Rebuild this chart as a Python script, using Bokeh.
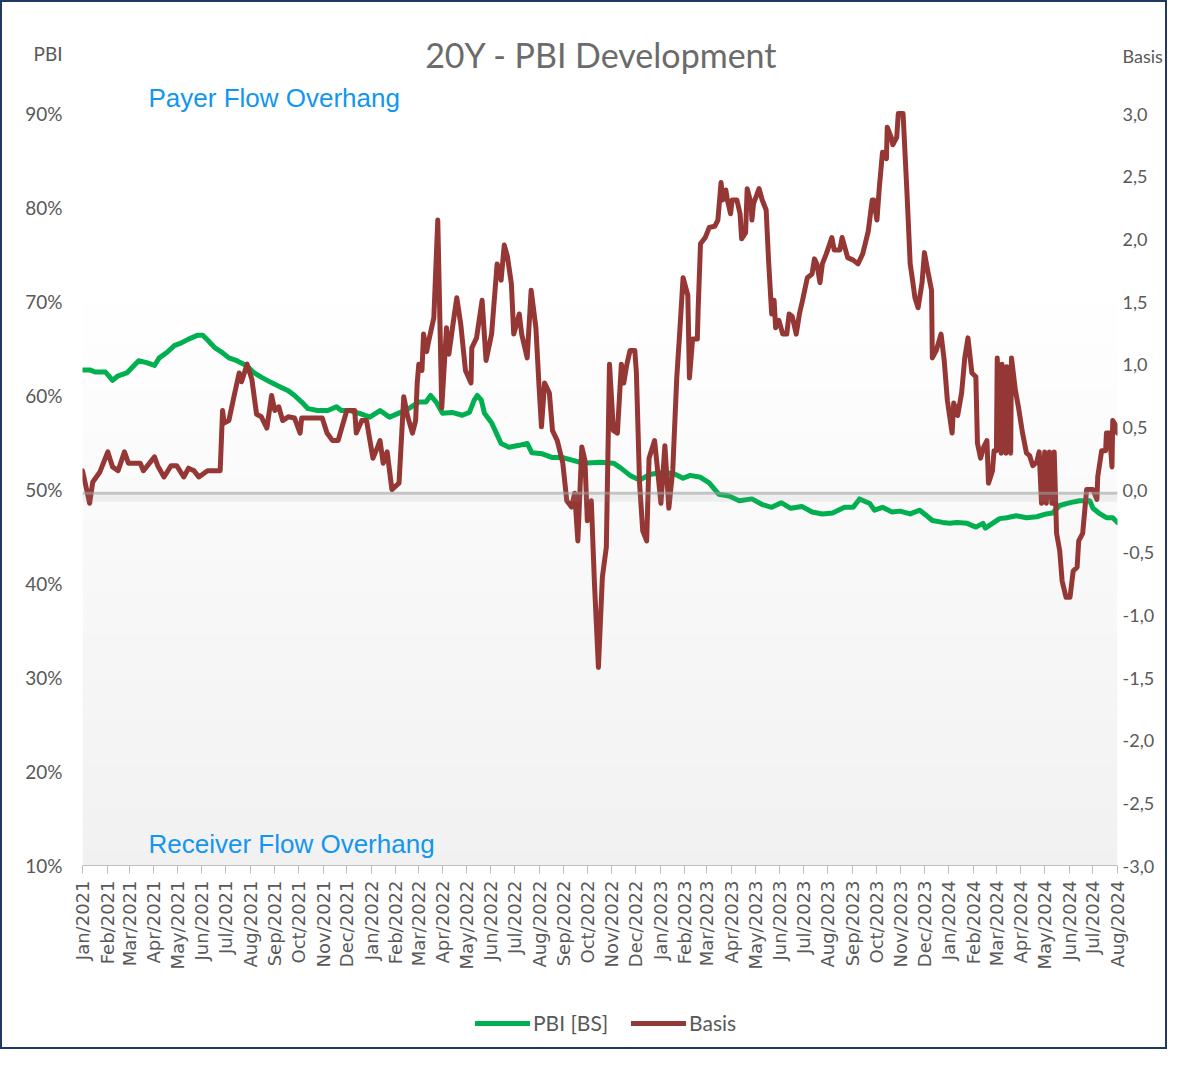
import math
import pandas as pd
from bokeh.plotting import figure
from bokeh.layouts import column
from bokeh.models import (Range1d, LinearAxis, FixedTicker, CustomJSTickFormatter,
                          DatetimeTickFormatter, Span, Label, Legend, LegendItem, BoxAnnotation)
from bokeh.embed import file_html
from bokeh.resources import INLINE

# ---------------- data ----------------
month_starts = pd.date_range("2021-01-01", "2024-08-01", freq="MS")
pbi_ticks = [10, 20, 30, 40, 50, 60, 70, 80, 90]
basis_ticks = [-3.0, -2.5, -2.0, -1.5, -1.0, -0.5, 0.0, 0.5, 1.0, 1.5, 2.0, 2.5, 3.0]
pbi_axis_title_at = 96.4      # "PBI" written at the top of the left scale
basis_axis_title_at = 3.455   # "Basis" written at the top of the right scale

pbi_dates = [
    "2021-01-01", "2021-01-11", "2021-01-17", "2021-01-30", "2021-02-08", "2021-02-15", "2021-02-26",
    "2021-03-05", "2021-03-13", "2021-03-23", "2021-04-02", "2021-04-08", "2021-04-18", "2021-04-27",
    "2021-05-06", "2021-05-15", "2021-05-26", "2021-06-02", "2021-06-08", "2021-06-17", "2021-06-26",
    "2021-07-05", "2021-07-15", "2021-07-27", "2021-08-06", "2021-08-16", "2021-08-27", "2021-09-08",
    "2021-09-18", "2021-09-26", "2021-10-05", "2021-10-13", "2021-10-25", "2021-11-07", "2021-11-18",
    "2021-11-24", "2021-12-05", "2021-12-17", "2021-12-30", "2022-01-12", "2022-01-24", "2022-02-07",
    "2022-02-19", "2022-03-02", "2022-03-11", "2022-03-17", "2022-03-24", "2022-04-01", "2022-04-13",
    "2022-04-26", "2022-05-05", "2022-05-11", "2022-05-15", "2022-05-20", "2022-05-24", "2022-06-02",
    "2022-06-08", "2022-06-14", "2022-06-24", "2022-07-07", "2022-07-17", "2022-07-23", "2022-08-05",
    "2022-08-18", "2022-08-30", "2022-09-13", "2022-09-25", "2022-10-17", "2022-11-03", "2022-11-12",
    "2022-11-24", "2022-12-06", "2022-12-19", "2023-01-02", "2023-01-18", "2023-01-30", "2023-02-08",
    "2023-02-21", "2023-03-04", "2023-03-16", "2023-03-29", "2023-04-11", "2023-04-27", "2023-05-10",
    "2023-05-22", "2023-06-03", "2023-06-15", "2023-06-29", "2023-07-12", "2023-07-25", "2023-08-07",
    "2023-08-22", "2023-09-02", "2023-09-10", "2023-09-23", "2023-09-29", "2023-10-09", "2023-10-21",
    "2023-10-31", "2023-11-13", "2023-11-25", "2023-12-04", "2023-12-11", "2023-12-24", "2024-01-02",
    "2024-01-11", "2024-01-24", "2024-02-04", "2024-02-13", "2024-02-16", "2024-02-25", "2024-03-05",
    "2024-03-14", "2024-03-26", "2024-04-08", "2024-04-21", "2024-05-03", "2024-05-11", "2024-05-20",
    "2024-06-02", "2024-06-14", "2024-06-27", "2024-07-01", "2024-07-10", "2024-07-18", "2024-07-26",
    "2024-08-01",
]
pbi_values = [
    62.7, 62.7, 62.5, 62.5, 61.6, 62.1, 62.4,
    63.0, 63.7, 63.5, 63.2, 64.0, 64.6, 65.3,
    65.6, 66.0, 66.4, 66.4, 65.9, 65.1, 64.6,
    64.0, 63.7, 63.2, 62.4, 61.9, 61.4, 60.9,
    60.5, 60.0, 59.3, 58.6, 58.4, 58.4, 58.8,
    58.4, 58.4, 58.1, 57.7, 58.4, 57.7, 58.2,
    58.7, 59.3, 59.3, 60.0, 59.3, 58.1, 58.2,
    57.9, 58.2, 59.5, 60.0, 59.5, 58.1, 57.1,
    56.0, 54.9, 54.5, 54.7, 54.9, 53.9, 53.8,
    53.4, 53.4, 53.1, 52.8, 52.9, 52.8, 52.3,
    51.5, 51.0, 51.6, 51.8, 51.7, 51.2, 51.5,
    51.3, 50.7, 49.5, 49.3, 48.8, 49.0, 48.4,
    48.1, 48.6, 48.0, 48.2, 47.6, 47.4, 47.5,
    48.1, 48.1, 49.0, 48.5, 47.8, 48.1, 47.6,
    47.7, 47.4, 47.8, 47.2, 46.7, 46.5, 46.4,
    46.5, 46.4, 46.0, 46.4, 45.9, 46.4, 46.9,
    47.0, 47.2, 47.0, 47.1, 47.4, 47.5, 48.3,
    48.6, 48.8, 48.8, 48.0, 47.4, 47.0, 47.0,
    46.5,
]

basis_dates = [
    "2021-01-01", "2021-01-10", "2021-01-14", "2021-01-23", "2021-02-02", "2021-02-08", "2021-02-15",
    "2021-02-23", "2021-02-28", "2021-03-15", "2021-03-19", "2021-04-02", "2021-04-06", "2021-04-14",
    "2021-04-23", "2021-04-30", "2021-05-09", "2021-05-15", "2021-05-22", "2021-05-28", "2021-06-08",
    "2021-06-24", "2021-06-27", "2021-06-29", "2021-07-05", "2021-07-11", "2021-07-18", "2021-07-21",
    "2021-07-28", "2021-08-03", "2021-08-09", "2021-08-15", "2021-08-22", "2021-08-28", "2021-09-01",
    "2021-09-06", "2021-09-11", "2021-09-18", "2021-09-26", "2021-10-03", "2021-10-05", "2021-10-31",
    "2021-11-06", "2021-11-13", "2021-11-20", "2021-12-01", "2021-12-11", "2021-12-13", "2021-12-20",
    "2021-12-26", "2022-01-03", "2022-01-09", "2022-01-12", "2022-01-16", "2022-01-21", "2022-01-27",
    "2022-02-05", "2022-02-11", "2022-02-16", "2022-02-22", "2022-02-26", "2022-02-28", "2022-03-02",
    "2022-03-06", "2022-03-08", "2022-03-12", "2022-03-14", "2022-03-21", "2022-03-26", "2022-03-31",
    "2022-04-06", "2022-04-09", "2022-04-16", "2022-04-19", "2022-04-24", "2022-04-30", "2022-05-07",
    "2022-05-08", "2022-05-14", "2022-05-21", "2022-05-26", "2022-06-02", "2022-06-09", "2022-06-14",
    "2022-06-18", "2022-06-22", "2022-06-27", "2022-06-30", "2022-07-07", "2022-07-10", "2022-07-17",
    "2022-07-22", "2022-07-28", "2022-08-01", "2022-08-04", "2022-08-08", "2022-08-14", "2022-08-18",
    "2022-08-24", "2022-08-31", "2022-09-05", "2022-09-11", "2022-09-15", "2022-09-19", "2022-09-24",
    "2022-09-28", "2022-10-01", "2022-10-06", "2022-10-10", "2022-10-15", "2022-10-20", "2022-10-25",
    "2022-10-29", "2022-11-03", "2022-11-08", "2022-11-13", "2022-11-16", "2022-11-20", "2022-11-24",
    "2022-11-30", "2022-12-02", "2022-12-06", "2022-12-10", "2022-12-15", "2022-12-18", "2022-12-25",
    "2023-01-02", "2023-01-07", "2023-01-12", "2023-01-17", "2023-01-22", "2023-01-26", "2023-01-30",
    "2023-02-05", "2023-02-07", "2023-02-11", "2023-02-17", "2023-02-18", "2023-02-21", "2023-02-27",
    "2023-03-04", "2023-03-11", "2023-03-15", "2023-03-19", "2023-03-21", "2023-03-25", "2023-03-27",
    "2023-03-31", "2023-04-02", "2023-04-08", "2023-04-12", "2023-04-14", "2023-04-19", "2023-04-21",
    "2023-04-26", "2023-04-27", "2023-04-29", "2023-05-06", "2023-05-10", "2023-05-15", "2023-05-18",
    "2023-05-22", "2023-05-25", "2023-05-27", "2023-05-31", "2023-06-05", "2023-06-10", "2023-06-13",
    "2023-06-17", "2023-06-22", "2023-06-26", "2023-06-30", "2023-07-06", "2023-07-12", "2023-07-15",
    "2023-07-18", "2023-07-22", "2023-07-25", "2023-07-30", "2023-08-06", "2023-08-09", "2023-08-16",
    "2023-08-19", "2023-08-26", "2023-09-02", "2023-09-08", "2023-09-14", "2023-09-21", "2023-09-26",
    "2023-09-28", "2023-10-02", "2023-10-05", "2023-10-09", "2023-10-14", "2023-10-15", "2023-10-20",
    "2023-10-22", "2023-10-27", "2023-10-29", "2023-11-04", "2023-11-09", "2023-11-13", "2023-11-16",
    "2023-11-19", "2023-11-23", "2023-11-28", "2023-12-01", "2023-12-05", "2023-12-10", "2023-12-11",
    "2023-12-16", "2023-12-22", "2023-12-26", "2023-12-30", "2024-01-05", "2024-01-07", "2024-01-12",
    "2024-01-17", "2024-01-21", "2024-01-25", "2024-01-30", "2024-02-04", "2024-02-06", "2024-02-10",
    "2024-02-14", "2024-02-18", "2024-02-20", "2024-02-25", "2024-02-27", "2024-03-01", "2024-03-02",
    "2024-03-07", "2024-03-08", "2024-03-13", "2024-03-14", "2024-03-19", "2024-03-20", "2024-03-25",
    "2024-03-29", "2024-04-03", "2024-04-08", "2024-04-12", "2024-04-16", "2024-04-21", "2024-04-24",
    "2024-04-27", "2024-05-01", "2024-05-03", "2024-05-07", "2024-05-10", "2024-05-13", "2024-05-16",
    "2024-05-20", "2024-05-23", "2024-05-28", "2024-06-02", "2024-06-06", "2024-06-11", "2024-06-13",
    "2024-06-18", "2024-06-23", "2024-07-01", "2024-07-06", "2024-07-07", "2024-07-12", "2024-07-17",
    "2024-07-18", "2024-07-22", "2024-07-25", "2024-07-26", "2024-07-30", "2024-08-01",
]
basis_values = [
    0.15, -0.11, 0.06, 0.14, 0.30, 0.18, 0.15,
    0.30, 0.21, 0.21, 0.15, 0.26, 0.19, 0.10,
    0.19, 0.19, 0.10, 0.17, 0.15, 0.10, 0.15,
    0.15, 0.63, 0.53, 0.55, 0.73, 0.93, 0.86,
    1.00, 0.88, 0.60, 0.58, 0.49, 0.75, 0.63,
    0.66, 0.55, 0.58, 0.57, 0.45, 0.57, 0.57,
    0.45, 0.39, 0.39, 0.63, 0.63, 0.45, 0.55,
    0.55, 0.25, 0.34, 0.39, 0.21, 0.30, 0.00,
    0.05, 0.74, 0.58, 0.45, 0.55, 0.85, 1.00,
    0.95, 1.24, 1.10, 1.17, 1.37, 2.15, 0.65,
    1.29, 1.08, 1.40, 1.53, 1.32, 0.95, 0.85,
    1.13, 1.21, 1.51, 1.03, 1.24, 1.80, 1.67,
    1.95, 1.86, 1.64, 1.24, 1.40, 1.24, 1.05,
    1.59, 1.29, 0.82, 0.50, 0.85, 0.77, 0.47,
    0.39, 0.21, -0.09, -0.14, -0.03, -0.41, 0.34,
    0.23, -0.25, -0.09, -0.75, -1.42, -0.70, -0.46,
    1.00, 0.47, 0.45, 1.00, 0.85, 1.00, 1.11,
    1.11, 0.93, 0.05, -0.33, -0.41, 0.25, 0.39,
    -0.11, 0.35, -0.15, 0.16, 0.89, 1.28, 1.69,
    1.55, 0.89, 1.20, 1.20, 1.43, 1.96, 2.01,
    2.09, 2.10, 2.15, 2.45, 2.31, 2.39, 2.31,
    2.20, 2.31, 2.31, 2.20, 2.00, 2.05, 2.40,
    2.28, 2.15, 2.28, 2.40, 2.31, 2.23, 1.83,
    1.40, 1.51, 1.29, 1.35, 1.24, 1.24, 1.40,
    1.38, 1.24, 1.40, 1.51, 1.69, 1.72, 1.84,
    1.80, 1.65, 1.80, 1.88, 2.01, 1.91, 1.91,
    2.01, 1.85, 1.83, 1.80, 1.88, 2.06, 2.31,
    2.31, 2.15, 2.41, 2.69, 2.64, 2.89, 2.81,
    2.75, 2.81, 3.00, 3.00, 2.36, 1.80, 1.67,
    1.53, 1.45, 1.65, 1.89, 1.75, 1.59, 1.05,
    1.11, 1.24, 1.03, 0.71, 0.45, 0.69, 0.59,
    0.77, 1.05, 1.21, 0.93, 0.90, 0.37, 0.25,
    0.34, 0.39, 0.05, 0.15, 0.31, 0.31, 1.05,
    0.29, 1.00, 0.29, 0.98, 0.29, 1.05, 0.79,
    0.65, 0.45, 0.29, 0.27, 0.19, 0.22, 0.30,
    -0.11, 0.30, -0.11, 0.30, -0.11, 0.30, -0.35,
    -0.49, -0.73, -0.86, -0.86, -0.65, -0.62, -0.41,
    -0.35, 0.00, 0.00, -0.08, 0.10, 0.31, 0.31,
    0.45, 0.45, 0.18, 0.55, 0.51, 0.45,
]

# ---------------- figure ----------------
TICK_COLOR = "#595959"
GREEN = "#00b050"
RED = "#953735"

TOTAL_W, TOTAL_H = 1167, 1049
LEGEND_H = 59
MAIN_H = TOTAL_H - LEGEND_H

# the frame reaches above the 90% / 3,0 line so that the texts up there are not clipped
FRAME_TOP, FRAME_BOTTOM = 20, 865
stretch = (FRAME_BOTTOM - FRAME_TOP) / 752.0
basis_top = -3.0 + 6.0 * stretch
pbi_top = 10.0 + 80.0 * stretch

p = figure(width=TOTAL_W, height=MAIN_H, x_axis_type="datetime",
           x_range=Range1d(month_starts[0], month_starts[-1]), y_range=Range1d(-3.0, basis_top),
           y_axis_location="right", output_backend="svg", toolbar_location=None,
           min_border_left=82, min_border_right=50, min_border_top=FRAME_TOP,
           min_border_bottom=MAIN_H - FRAME_BOTTOM)
p.background_fill_color = "white"
p.border_fill_alpha = 0.0
p.outline_line_color = None
p.xgrid.grid_line_color = None
p.ygrid.grid_line_color = None

p.extra_y_ranges = {"pbi": Range1d(10.0, pbi_top)}
left_axis = LinearAxis(y_range_name="pbi", ticker=FixedTicker(ticks=pbi_ticks + [pbi_axis_title_at]),
                       formatter=CustomJSTickFormatter(
                           code="return tick > 92 ? 'PBI' : tick.toFixed(0) + '%';"))
p.add_layout(left_axis, "left")

right_axis = p.right[0]
right_axis.ticker = FixedTicker(ticks=basis_ticks + [basis_axis_title_at])
right_axis.formatter = CustomJSTickFormatter(
    code="return tick > 3.2 ? 'Basis' : tick.toFixed(1).replace('.', ',');")

for ax, standoff, size in ((left_axis, 20, "19px"), (right_axis, 5, "18px")):
    ax.axis_line_color = None
    ax.major_tick_line_color = None
    ax.minor_tick_line_color = None
    ax.major_tick_out = 0
    ax.major_tick_in = 0
    ax.major_label_standoff = standoff
    ax.major_label_text_font = "Lato"
    ax.major_label_text_font_size = size
    ax.major_label_text_color = TICK_COLOR

xax = p.xaxis[0]
xax.ticker = FixedTicker(ticks=[int(t.value // 10**6) for t in month_starts])
xax.formatter = DatetimeTickFormatter(days="%b/%Y", months="%b/%Y", years="%b/%Y",
                                      hours="%b/%Y", hourmin="%b/%Y")
xax.major_label_orientation = math.pi / 2
xax.axis_line_color = "#bfbfbf"
xax.major_tick_line_color = "#bfbfbf"
xax.minor_tick_line_color = None
xax.major_tick_out = 8
xax.major_tick_in = 0
xax.major_label_standoff = 7
xax.major_label_text_font = "DejaVu Sans"
xax.major_label_text_font_size = "18px"
xax.major_label_text_color = TICK_COLOR

# soft background gradient of the plot area
n_bands = 40
g_bottom, g_top = -3.0, 1.6
for i in range(n_bands):
    b = g_bottom + (g_top - g_bottom) * i / n_bands
    t = g_bottom + (g_top - g_bottom) * (i + 1) / n_bands + 0.01
    frac = (i + 0.5) / n_bands
    c = int(round(241 + (255 - 241) * frac))
    p.add_layout(BoxAnnotation(bottom=b, top=t, fill_color=f"#{c:02x}{c:02x}{c:02x}", fill_alpha=1.0,
                               line_color=None, level="underlay"))

pbi_x = pd.to_datetime(pbi_dates)
basis_x = pd.to_datetime(basis_dates)
p.line(pbi_x, pbi_values, y_range_name="pbi", line_color=GREEN, line_width=5,
       line_join="round", line_cap="round")
p.line(basis_x, basis_values, line_color=RED, line_width=5, line_join="round", line_cap="round")

# the grey 50% / 0,0 reference line with a soft shadow below it
p.add_layout(Span(location=-0.07, dimension="width", line_color="#9a9a9a", line_alpha=0.12, line_width=7))
p.add_layout(Span(location=-0.03, dimension="width", line_color="#a0a0a0", line_alpha=0.6, line_width=3))

# texts inside the (extended) frame, positioned in screen pixels from the frame's lower-left corner
p.add_layout(Label(x=519, y=FRAME_BOTTOM - 54, x_units="screen", y_units="screen",
                   text="20Y - PBI Development", text_align="center", text_baseline="middle",
                   text_font="Lato", text_font_size="34px", text_color="#6b6b6b"))
p.add_layout(Label(x=66, y=FRAME_BOTTOM - 97, x_units="screen", y_units="screen",
                   text="Payer Flow Overhang", text_align="left", text_baseline="middle",
                   text_font="Liberation Sans", text_font_size="26px", text_color="#1296f0"))
p.add_layout(Label(x=66, y=22, x_units="screen", y_units="screen", text="Receiver Flow Overhang",
                   text_align="left", text_baseline="middle", text_font="Liberation Sans",
                   text_font_size="26px", text_color="#1296f0"))

# ---------------- legend strip under the chart ----------------
# its frame is aligned with the chart's frame by the column layout; the series drawn here fall
# outside its tiny ranges, they only give the legend its line samples
lf = figure(width=TOTAL_W, height=LEGEND_H, x_range=Range1d(0, 1), y_range=Range1d(0, 1),
            x_axis_location=None, y_axis_location=None, output_backend="svg", toolbar_location=None,
            min_border=0)
lf.outline_line_color = None
lf.background_fill_alpha = 0.0
lf.border_fill_alpha = 0.0
for gr in lf.grid:
    gr.visible = False
lg = lf.line(pbi_x, pbi_values, line_color=GREEN, line_width=5, line_cap="round")
lr = lf.line(basis_x, basis_values, line_color=RED, line_width=5, line_cap="round")
legend = Legend(items=[LegendItem(label="PBI [BS]", renderers=[lg]), LegendItem(label="Basis", renderers=[lr])],
                orientation="horizontal", location=(393, 14), glyph_width=55, glyph_height=22,
                label_height=22, label_standoff=3, spacing=23, padding=0, margin=0,
                border_line_color=None, background_fill_alpha=0.0, label_text_font="Lato",
                label_text_font_size="21px", label_text_color=TICK_COLOR)
lf.add_layout(legend)

# dark blue frame round the whole chart, drawn beneath the transparent canvases
layout = column(p, lf, spacing=0,
                styles={"box-shadow": "inset 0 0 0 2px #1f3864", "background-color": "white"})

open("out.html", "w").write(file_html(layout, INLINE))
